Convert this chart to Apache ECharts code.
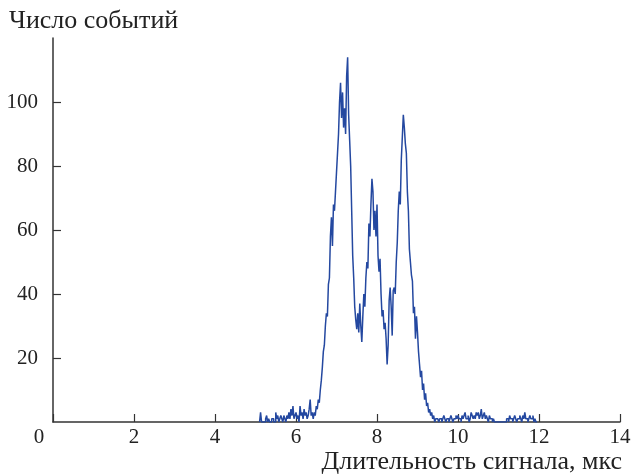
<!DOCTYPE html>
<html>
<head>
<meta charset="utf-8">
<script src="https://cdn.jsdelivr.net/npm/echarts@6/dist/echarts.min.js"></script>
<style>html,body{margin:0;padding:0;background:#fff}#c{width:634px;height:475px}</style>
</head>
<body>
<div id="c"></div>
<script>
const yTitle = 'Число событий';
const xTitle = 'Длительность сигнала, мкс';
const xTicks = [0, 2, 4, 6, 8, 10, 12, 14];
const yTicks = [20, 40, 60, 80, 100];
const binStart = 5.1;
const binWidth = 0.025;
// counts per bin, 5.100 .. 11.925
const counts5_6 = [0,3,0,0,0,0,1,2,0,1,0,0,1,1,0,0,3,1,2,0,1,2,1,0,2,1,0,2,1,3,1,4,2,5,1,2];
const counts6_65 = [3,1,2,0,5,2,3,1,4,2,3,1,2,4,7,2,3,1,3,2];
const counts65_7 = [5,4,7,6,10,13,17,22,24,30,34,33,43,45,58,64,55,68,66,72];
const counts7_75 = [78,84,90,100,106,95,103,92,98,90,108,114,96,88,80,66,52,45,36,32];
const counts75_8 = [29,34,28,37,30,25,33,40,36,45,50,48,62,58,68,76,72,60,66,58];
const counts8_85 = [68,52,47,51,40,33,35,29,31,26,18,24,38,42,36,27,41,42,40,50];
const counts85_9 = [56,66,72,68,82,89,96,92,87,84,72,66,54,50,46,44,34,36,26,33];
const counts9_95 = [28,22,18,14,16,10,12,7,9,5,6,3,4,2,3,1,2,0,1,1];
const counts95_10 = [1,0,1,1,0,1,2,1,0,1,1,0,1,2,1,0,1,1,2,1];
const counts10_105 = [2,1,1,0,2,1,2,3,1,1,2,0,1,3,2,1,2,1,3,2];
const counts105_11 = [3,1,2,4,1,2,3,1,2,1,0,2,1,1,0,1,0,0,0,0];
const counts11_115 = [0,0,0,0,0,0,0,0,1,1,0,2,1,1,0,1,2,1,0,1];
const counts115_12 = [1,2,1,0,2,1,3,1,1,0,1,2,1,1,2,0,1,0];

const counts = [].concat(counts5_6, counts6_65, counts65_7, counts7_75, counts75_8,
  counts8_85, counts85_9, counts9_95, counts95_10, counts10_105, counts105_11,
  counts11_115, counts115_12);
const data = counts.map((v, i) => [+(binStart + i * binWidth).toFixed(4), v]);
data.push([+(binStart + counts.length * binWidth).toFixed(4), 0]);

const FONT = 'Liberation Serif';
const chart = echarts.init(document.getElementById('c'), null, {renderer: 'canvas'});
chart.setOption({
  animation: false,
  grid: {left: 53, right: 14, top: 38, bottom: 53},
  xAxis: {
    type: 'value', min: 0, max: 14, interval: 2,
    axisLine: {lineStyle: {color: '#333', width: 1.5}},
    axisTick: {inside: true, length: 8, lineStyle: {color: '#333', width: 1.2}},
    splitLine: {show: false},
    axisLabel: {
      margin: 5, color: '#222', fontFamily: FONT, fontSize: 21,
      formatter: v => v === 0 ? '{z|0}' : String(v),
      rich: {z: {padding: [0, 28, 0, 0], color: '#222', fontFamily: FONT, fontSize: 21}}
    }
  },
  yAxis: {
    type: 'value', min: 0, max: 120,
    axisLine: {show: true, lineStyle: {color: '#333', width: 1.5}},
    axisTick: {show: true, inside: true, length: 8, customValues: yTicks, lineStyle: {color: '#333', width: 1.2}},
    splitLine: {show: false},
    axisLabel: {margin: 15, color: '#222', fontFamily: FONT, fontSize: 21, customValues: yTicks}
  },
  graphic: [
    {type: 'text', left: 9, top: 8, style: {text: yTitle, font: '26px "Liberation Serif"', fill: '#222'}},
    {type: 'text', right: 12, top: 449, style: {text: xTitle, font: '26px "Liberation Serif"', fill: '#222'}}
  ],
  series: [{
    type: 'line', step: 'end', data: data, symbol: 'none',
    lineStyle: {color: '#2448a0', width: 1.5}
  }]
});
</script>
</body>
</html>
